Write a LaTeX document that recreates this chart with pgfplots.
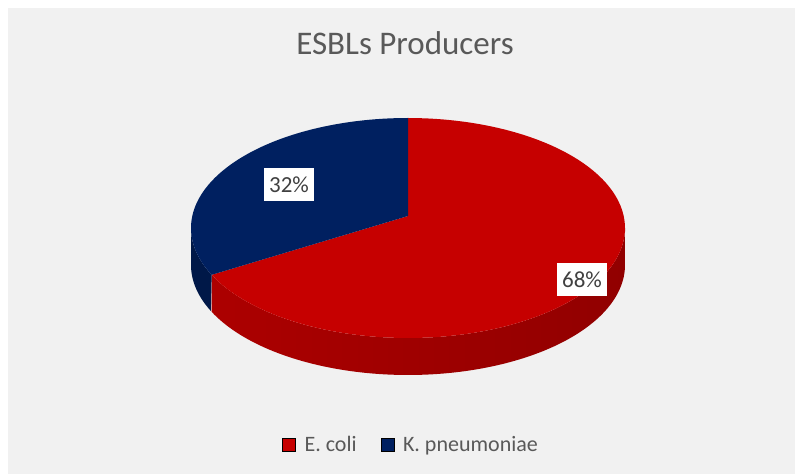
\documentclass[border=0pt]{standalone}
\usepackage{pgfplots}
\pgfplotsset{compat=1.18}
\usepackage{pgfplotstable}
\usepackage{fontspec}
\setmainfont{Carlito}
\definecolor{bgc}{RGB}{241,241,241}
\definecolor{redtop}{RGB}{198,0,0}
\definecolor{bluetop}{RGB}{0,32,96}
\definecolor{redsideA}{RGB}{172,0,0}
\definecolor{redsideB}{RGB}{200,0,0}
\definecolor{redsideC}{RGB}{145,0,0}
\definecolor{blueside}{RGB}{0,24,72}
\definecolor{txtgray}{RGB}{89,89,89}
\definecolor{lblgray}{RGB}{64,64,64}

\pgfplotstableread{
name value
Ecoli 68
Kpn 32
}\piedata

\begin{document}
\begin{tikzpicture}
\pgfplotstablegetelem{0}{value}\of\piedata \let\vE\pgfplotsretval
\pgfplotstablegetelem{1}{value}\of\piedata \let\vK\pgfplotsretval
\pgfmathsetmacro\aS{90}
\pgfmathsetmacro\aE{90-3.6*\vE}
\pgfmathsetmacro\aK{\aE-3.6*\vK}
\begin{axis}[
  scale only axis, width=795pt, height=474pt,
  xmin=0, xmax=795, ymin=0, ymax=474,
  axis lines=none, clip=false,
  legend style={at={(axis cs:411,29)}, anchor=center, draw=none, fill=none,
    legend columns=2, font=\fontsize{22}{26}\selectfont\color{txtgray},
    /tikz/every odd column/.append style={column sep=7pt},
    /tikz/every even column/.append style={column sep=22pt},
    legend cell align=left},
  legend image code/.code={\fill[#1] (0pt,-6.5pt) rectangle (13pt,6.5pt);},
]
% background: white margin and grey chart area
\addplot[fill=white, draw=none, forget plot] coordinates {(0,0) (795,0) (795,474) (0,474)} -- cycle;
\addplot[fill=bgc, draw=none, forget plot] coordinates {(8,0) (795,0) (795,466) (8,466)} -- cycle;

% sides (front half)
\addplot[draw=none, forget plot, left color=redsideA, middle color=redsideB, right color=redsideC,
  domain=0:2, samples=201, variable=\t]
  ({408+217*cos(\aE+(0-\aE)*(1-abs(1-\t)))},
   {246+110*sin(\aE+(0-\aE)*(1-abs(1-\t))) - ((\t>1.0001) ? 37 : 0)}) -- cycle;
\addplot[draw=none, forget plot, fill=blueside,
  domain=0:2, samples=101, variable=\t]
  ({408+217*cos(-180+(\aE+180)*(1-abs(1-\t)))},
   {246+110*sin(-180+(\aE+180)*(1-abs(1-\t))) - ((\t>1.0001) ? 37 : 0)}) -- cycle;

% top faces
\addplot[draw=none, forget plot, fill=redtop, domain=0:1.02, samples=103, variable=\t]
  ({(\t>1.0001) ? 408 : 408+217*cos(\aS+(\aE-\aS)*\t)},
   {(\t>1.0001) ? 258 : 246+110*sin(\aS+(\aE-\aS)*\t)}) -- cycle;
\addplot[draw=none, forget plot, fill=bluetop, domain=0:1.02, samples=103, variable=\t]
  ({(\t>1.0001) ? 408 : 408+217*cos(\aE+(\aK-\aE)*\t)},
   {(\t>1.0001) ? 258 : 246+110*sin(\aE+(\aK-\aE)*\t)}) -- cycle;

% data labels
\node[fill=white, text=lblgray, font=\fontsize{23}{27}\selectfont, inner xsep=5pt, inner ysep=9pt,
  text height=15pt, text depth=0pt] at (axis cs:289,289) {\vK\%};
\node[fill=white, text=lblgray, font=\fontsize{23}{27}\selectfont, inner xsep=5pt, inner ysep=9pt,
  text height=15pt, text depth=0pt] at (axis cs:582,194) {\vE\%};

% title
\node[text=txtgray, font=\fontsize{33}{38}\selectfont] at (axis cs:405,431) {ESBLs Producers};

% legend
\addlegendimage{fill=redtop}
\addlegendentry{E. coli}
\addlegendimage{fill=bluetop}
\addlegendentry{K. pneumoniae}
\end{axis}
\end{tikzpicture}
\end{document}
